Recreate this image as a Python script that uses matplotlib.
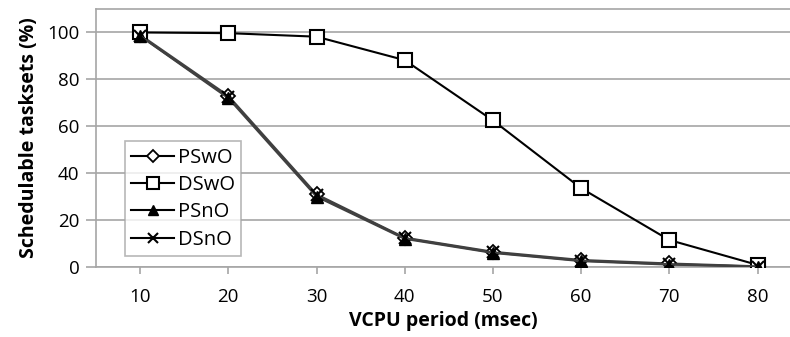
import matplotlib
matplotlib.use("Agg")
import matplotlib.pyplot as plt

periods = [10, 20, 30, 40, 50, 60, 70, 80]
pswo = [99, 73, 31, 12.5, 6.5, 3, 1.5, 0.3]
dswo = [100, 99.7, 98.2, 88.2, 62.5, 33.6, 11.5, 0.9]
psno = [98.5, 72, 30, 12, 6, 2.5, 1, 0.2]
dsno = [98.5, 72.5, 30.5, 12.3, 6.2, 2.7, 1.2, 0.2]
yticks = [0, 20, 40, 60, 80, 100]

plt.rcParams['font.family'] = ['Open Sans', 'DejaVu Sans']

W, H = 790, 337
fig = plt.figure(figsize=(W / 100, H / 100), dpi=100)
ax = fig.add_axes([96 / W, (H - 267) / H, (W - 96) / W, (267 - 9) / H])

grid_c = '#a6a6a6'
gray_line = '#404040'

ax.plot(periods, pswo, color=gray_line, lw=1.5, marker='D', ms=7, mfc='white',
        mec='black', mew=1.3, label='PSwO', zorder=3)
ax.plot(periods, dswo, color='black', lw=1.5, marker='s', ms=10, mfc='white',
        mec='black', mew=1.5, label='DSwO', zorder=3)
ax.plot(periods, psno, color=gray_line, lw=1.5, marker='^', ms=9, mfc='black',
        mec='black', label='PSnO', zorder=3)
ax.plot(periods, dsno, color=gray_line, lw=1.5, marker='x', ms=9, mec='black',
        mew=1.5, label='DSnO', zorder=3)

ax.set_xlim(5, 5 + (W - 96) / 8.82)
ax.set_ylim(0, 110)
ax.set_yticks(yticks)
ax.set_xticks(periods)
ax.grid(axis='y', color=grid_c, lw=1.2)
ax.set_axisbelow(True)
for s in ['left', 'bottom', 'top']:
    ax.spines[s].set_color(grid_c)
    ax.spines[s].set_linewidth(1.2)
ax.spines['right'].set_visible(False)
ax.tick_params(axis='both', colors=grid_c, width=1.2, labelsize=13.5,
               labelcolor='black')
ax.tick_params(axis='y', length=7, pad=5)
ax.tick_params(axis='x', length=5, pad=10)

ax.set_xlabel('VCPU period (msec)', fontsize=14, fontweight='bold', labelpad=4)
ax.set_ylabel('Schedulable tasksets (%)', fontsize=14, fontweight='bold', labelpad=6)

leg = ax.legend(loc='lower left', bbox_to_anchor=((125 - 96) / (W - 96), (267 - 256) / 258),
                fontsize=14.5, frameon=True, fancybox=False, handlelength=2.1,
                borderpad=0.32, labelspacing=0.36, handletextpad=0.2, borderaxespad=0,
                markerscale=0.85)
leg.get_frame().set_edgecolor(grid_c)
leg.get_frame().set_linewidth(1.2)
for l in leg.get_lines():
    l.set_color('black')

fig.savefig('out.png', dpi=100)
